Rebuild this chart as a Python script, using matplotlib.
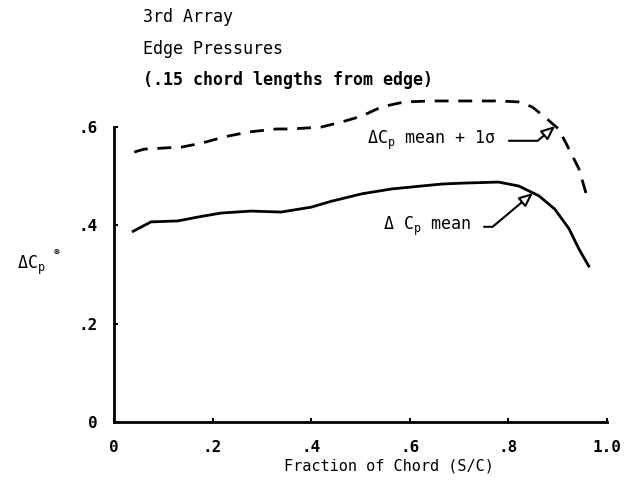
import matplotlib
matplotlib.use("Agg")
import matplotlib.pyplot as plt

plt.rcParams['font.family'] = ['DejaVu Sans Mono', 'DejaVu Sans']
plt.rcParams['mathtext.fontset'] = 'custom'
plt.rcParams['mathtext.rm'] = 'DejaVu Sans Mono'
plt.rcParams['mathtext.it'] = 'DejaVu Sans Mono'

# dCp mean + 1 sigma (dashed)
x_sig = [0.041, 0.061, 0.096, 0.136, 0.177, 0.224, 0.274, 0.329, 0.360, 0.421,
         0.461, 0.502, 0.543, 0.589, 0.644, 0.711, 0.780, 0.821, 0.848, 0.874,
         0.902, 0.923, 0.943, 0.959]
y_sig = [0.549, 0.555, 0.557, 0.559, 0.567, 0.580, 0.590, 0.596, 0.596, 0.600,
         0.610, 0.622, 0.641, 0.651, 0.653, 0.653, 0.653, 0.651, 0.641, 0.620,
         0.596, 0.555, 0.515, 0.460]

# dCp mean (solid)
x_mean = [0.039, 0.075, 0.130, 0.171, 0.217, 0.278, 0.339, 0.400, 0.441, 0.502,
          0.563, 0.624, 0.665, 0.711, 0.780, 0.821, 0.862, 0.894, 0.923, 0.943,
          0.963]
y_mean = [0.388, 0.407, 0.409, 0.417, 0.425, 0.429, 0.427, 0.437, 0.449, 0.464,
          0.474, 0.480, 0.484, 0.486, 0.488, 0.480, 0.460, 0.433, 0.393, 0.352,
          0.317]

xticks = [0, 0.2, 0.4, 0.6, 0.8, 1.0]
xtick_labels = ['0', '.2', '.4', '.6', '.8', '1.0']
yticks = [0, 0.2, 0.4, 0.6]
ytick_labels = ['0', '.2', '.4', '.6']

title_lines = ['3rd Array', 'Edge Pressures', '(.15 chord lengths from edge)']

fig = plt.figure(figsize=(6.25, 4.87), dpi=100)
ax = fig.add_axes([0.1824, 0.1335, 0.7888, 0.6057])

ax.plot(x_sig, y_sig, color='black', lw=2.0, dashes=(5, 3.5), clip_on=False)
ax.plot(x_mean, y_mean, color='black', lw=2.0, clip_on=False)

ax.set_xlim(0, 1.0)
ax.set_ylim(0, 0.6)
ax.spines['top'].set_visible(False)
ax.spines['right'].set_visible(False)
ax.spines['left'].set_linewidth(2)
ax.spines['bottom'].set_linewidth(2)
ax.set_xticks(xticks, xtick_labels)
ax.set_yticks(yticks, ytick_labels)
ax.tick_params(axis='both', direction='in', length=3, width=1.5, labelsize=11.5)
ax.tick_params(axis='x', pad=13)
ax.tick_params(axis='y', pad=12)
for lab in ax.get_xticklabels() + ax.get_yticklabels():
    lab.set_fontweight('bold')

fig.text(0.622, 1 - 466 / 487, 'Fraction of Chord (S/C)', ha='center',
         va='center', fontsize=11)

fig.text(0.027, 1 - 265 / 487, r'ΔC$_p$', ha='left', va='center', fontsize=12)
fig.text(0.086, 1 - 252 / 487, '⊛', ha='left', va='center', fontsize=7)

for i, line in enumerate(title_lines):
    fig.text(0.229, 1 - (17 + 31.5 * i) / 487, line, ha='left', va='center',
             fontsize=12, fontweight='bold' if i == 2 else 'normal')

arrow = dict(arrowstyle='-|>,head_length=0.7,head_width=0.3',
             fc='white', ec='black', lw=1.5, relpos=(1, 0.5),
             shrinkA=7, shrinkB=0,
             connectionstyle='angle,angleA=0,angleB=40,rad=0')
ax.annotate(r'ΔC$_p$ mean + 1σ', xy=(0.895, 0.602),
            xytext=(0.514, 0.572), textcoords='data', ha='left', va='center',
            fontsize=12, arrowprops=arrow, annotation_clip=False)
ax.annotate(r'Δ C$_p$ mean', xy=(0.850, 0.466),
            xytext=(0.546, 0.397), textcoords='data', ha='left', va='center',
            fontsize=12, arrowprops=arrow, annotation_clip=False)

fig.savefig('out.png', dpi=100)
